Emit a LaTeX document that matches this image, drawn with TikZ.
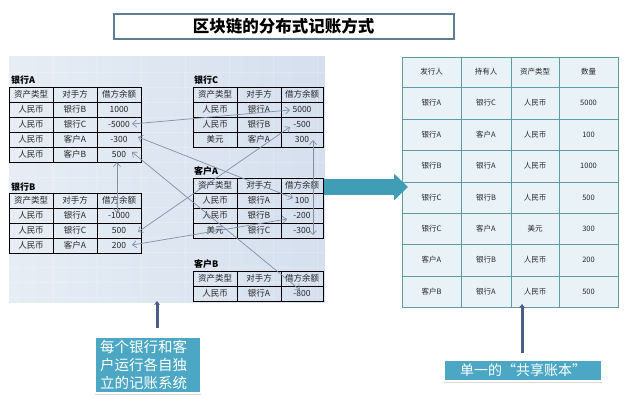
\documentclass[tikz,border=0pt]{standalone}
\usepackage{fontspec}
\setmainfont{Noto Sans CJK SC}
\usetikzlibrary{arrows.meta,shadows}
\definecolor{panelL}{HTML}{E6EDF4}
\definecolor{panelR}{HTML}{D5DFEE}
\definecolor{wire}{HTML}{7F90A8}
\definecolor{teal}{HTML}{3F9DB6}
\definecolor{note}{HTML}{4BA7C4}
\definecolor{ledgerline}{HTML}{5F9BA8}
\definecolor{ledgerfill}{HTML}{E9F2F7}
\definecolor{pointerc}{HTML}{4A5F84}
\definecolor{titleline}{HTML}{5E7F93}
\tikzset{
  bankcell/.style={draw=black,line width=1pt,inner sep=0pt,font=\fontsize{8.5}{9}\selectfont,text=black!85},
  banklabel/.style={anchor=west,inner sep=0pt,font=\fontsize{9}{10}\selectfont\bfseries},
  ledgercell/.style={draw=ledgerline,line width=.8pt,fill=ledgerfill,inner sep=0pt,font=\fontsize{7.5}{9}\selectfont,text=black!85},
  wirelink/.style={draw=wire,line width=.7pt,{Straight Barb[length=4pt,width=7pt]}-{Straight Barb[length=4pt,width=7pt]}},
  pointer/.style={draw=pointerc,line width=3pt,-{Stealth[length=4pt,width=6pt]}},
  notebox/.style={fill=note,draw=white,line width=2pt,text=white,inner sep=0pt,align=left,
    font=\fontsize{14.5}{18}\selectfont,drop shadow={shadow xshift=0pt,shadow yshift=-2pt,opacity=.3,fill=black!50}},
  gridline/.style={draw=white,line width=.4pt,opacity=.2},
}
% name, left x, top y, third column width, rows
\newcommand{\banktable}[5]{%
  \foreach \pa/\pb/\pc [count=\r] in {#5}{
    \node[bankcell,minimum width=44pt,minimum height=15pt] (#1\r-1) at ({#2+22},{#3+15*\r-7.5}) {\pa};
    \node[bankcell,minimum width=44pt,minimum height=15pt] (#1\r-2) at ({#2+66},{#3+15*\r-7.5}) {\pb};
    \node[bankcell,minimum width=#4pt,minimum height=15pt] (#1\r-3) at ({#2+88+#4/2},{#3+15*\r-7.5}) {\pc};
  }%
}
\begin{document}
\begin{tikzpicture}[x=1pt,y=-1pt]
\useasboundingbox (0,0) rectangle (627,408);
\fill[white] (0,0) rectangle (627,408);
% title
\node[draw=titleline,line width=2pt,fill=white,minimum width=340pt,minimum height=25pt,inner sep=0pt,
  font=\fontsize{16.5}{18}\selectfont\bfseries] (title) at (283.5,26) {区块链的分布式记账方式};
% panel
\node[left color=panelL,right color=panelR,minimum width=316pt,minimum height=246pt,inner sep=0pt] (panel) at (167,179) {};
\foreach \gx in {53,97,141,185,229,273,317}{\draw[gridline] (\gx,56) -- (\gx,302);}
\foreach \gy in {72,87,102,117,132,147,162,177,192,207,222,237,252,267,282,297}{\draw[gridline] (9,\gy) -- (325,\gy);}
% bank tables
\node[banklabel] (lblA) at (11,80) {银行A};
\banktable{a}{9}{87}{44}{资产类型/对手方/借方余额,人民币/银行B/1000,人民币/银行C/-5000,人民币/客户A/-300,人民币/客户B/500}
\node[banklabel] (lblC) at (194,80) {银行C};
\banktable{c}{193}{87}{42}{资产类型/对手方/借方余额,人民币/银行A/5000,人民币/银行B/-500,美元/客户A/300}
\node[banklabel] (lblB) at (11,187) {银行B};
\banktable{b}{9}{193}{44}{资产类型/对手方/借方余额,人民币/银行A/-1000,人民币/银行C/500,人民币/客户A/200}
\node[banklabel] (lblD) at (194,171) {客户A};
\banktable{d}{193}{178}{42}{资产类型/对手方/借方余额,人民币/银行A/100,人民币/银行B/-200,美元/银行C/-300}
\node[banklabel] (lblE) at (194,264) {客户B};
\banktable{e}{193}{271}{42}{资产类型/对手方/借方余额,人民币/银行A/-800}
% link ends
\coordinate (w1a) at (132,124); \coordinate (w1b) at (290,110);
\coordinate (w2a) at (138,137); \coordinate (w2b) at (293,198);
\coordinate (w3a) at (132,152); \coordinate (w3b) at (300,290);
\coordinate (w4a) at (117,162); \coordinate (w4b) at (117,213);
\coordinate (w5a) at (290,127); \coordinate (w5b) at (138,232);
\coordinate (w6a) at (132,245); \coordinate (w6b) at (287,219);
\coordinate (w7a) at (313,140); \coordinate (w7b) at (313,235);
\foreach \wa/\wb in {w1a/w1b,w2a/w2b,w3a/w3b,w4a/w4b,w5a/w5b,w6a/w6b,w7a/w7b}{\draw[wirelink] (\wa) -- (\wb);}
% ledger
\foreach \py/\ph/\pa/\pb/\pc/\pd [count=\r] in {
  72/30/发行人/持有人/资产类型/数量,
  103/32/银行A/银行C/人民币/5000,
  134.5/31/银行A/客户A/人民币/100,
  166/32/银行B/银行A/人民币/1000,
  197.5/31/银行C/银行B/人民币/500,
  228.5/31/银行C/客户A/美元/300,
  260/32/客户A/银行B/人民币/200,
  291.5/31/客户B/银行A/人民币/500}{
  \node[ledgercell,minimum width=59pt,minimum height=\ph pt] (l\r-1) at (431.5,\py) {\pa};
  \node[ledgercell,minimum width=50pt,minimum height=\ph pt] (l\r-2) at (486,\py) {\pb};
  \node[ledgercell,minimum width=48pt,minimum height=\ph pt] (l\r-3) at (535,\py) {\pc};
  \node[ledgercell,minimum width=59pt,minimum height=\ph pt] (l\r-4) at (588.5,\py) {\pd};
}
% big arrow
\coordinate (bigstart) at (324,187);
\coordinate (bigend) at (408,187);
\draw[teal,line width=16pt,-{Triangle[length=14pt,width=26pt]}] (bigstart) -- (bigend);
% notes
\node[notebox,text width=96pt,minimum width=106pt,minimum height=56pt] (noteL) at (148,365)
  {每个银行和客\\户运行各自独\\立的记账系统};
\node[notebox,minimum width=158pt,minimum height=21pt,font=\fontsize{14}{16}\selectfont] (noteR) at (523,370.5)
  {单一的“共享账本”};
\coordinate (ptrL1) at (157,328); \coordinate (ptrL2) at (157,301);
\coordinate (ptrR1) at (522,353); \coordinate (ptrR2) at (522,304);
\draw[pointer] (ptrL1) -- (ptrL2);
\draw[pointer] (ptrR1) -- (ptrR2);
\end{tikzpicture}
\end{document}
